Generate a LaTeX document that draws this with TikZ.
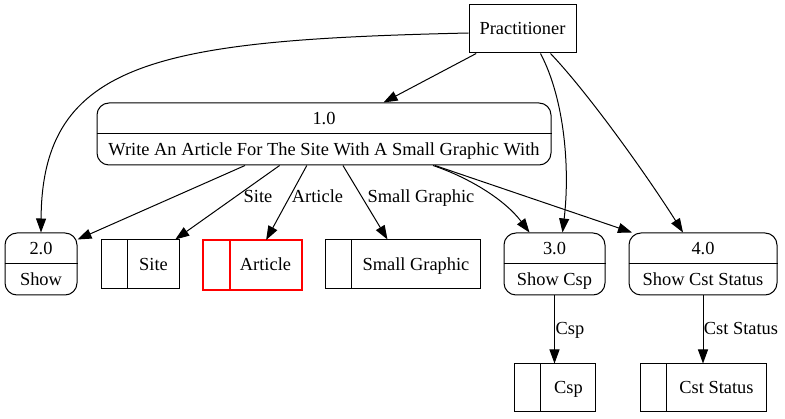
\documentclass[tikz,border=0pt]{standalone}
\usepackage{fontspec}
\setmainfont{Liberation Serif}
\usetikzlibrary{arrows.meta}
\begin{document}
\begin{tikzpicture}[x=1pt,y=-1pt,line width=1pt,
  every node/.style={font=\fontsize{18.4}{21}\selectfont},
  txt/.style={inner sep=0pt,text height=15pt,text depth=3pt},
  ext/.style={draw,inner sep=0pt},
  proc/.style={draw,rounded corners=12pt,inner sep=0pt},
  store/.style={draw,inner sep=0pt},
  flow/.style={-{Triangle[length=14pt,width=10pt]}}]
\useasboundingbox (0,0) rectangle (785,419);
% external entity
\node[ext,minimum width=107pt,minimum height=48pt] (prac) at (522.5,29) {};
\node[txt] (tprac) at (522.5,29) {Practitioner};
% processes
\node[proc,minimum width=454pt,minimum height=62pt] (p1) at (324,134) {};
\draw (p1.west) -- (p1.east);
\node[txt] (p1a) at (324,118.5) {1.0};
\node[txt] (p1b) at (324,149.5) {Write An Article For The Site With A Small Graphic With};
\node[proc,minimum width=72pt,minimum height=62pt] (p2) at (41,264) {};
\draw (p2.west) -- (p2.east);
\node[txt] (p2a) at (41,248.5) {2.0};
\node[txt] (p2b) at (41,279.5) {Show};
\node[proc,minimum width=101pt,minimum height=62pt] (p3) at (554.5,264) {};
\draw (p3.west) -- (p3.east);
\node[txt] (p3a) at (554.5,248.5) {3.0};
\node[txt] (p3b) at (554.5,279.5) {Show Csp};
\node[proc,minimum width=148pt,minimum height=62pt] (p4) at (703,264) {};
\draw (p4.west) -- (p4.east);
\node[txt] (p4a) at (703,248.5) {4.0};
\node[txt] (p4b) at (703,279.5) {Show Cst Status};
% data stores
\node[store,minimum width=78pt,minimum height=49pt] (site) at (140,264.5) {};
\draw ([xshift=27pt]site.north west) -- ([xshift=27pt]site.south west);
\node[txt] (tsite) at (153.5,264.5) {Site};
\node[inner sep=0pt,minimum width=98pt,minimum height=49pt] (art) at (252.5,265) {};
\draw[red,line width=1.1pt] (art.north west) rectangle (art.south east);
\draw[red,line width=1.1pt] ([xshift=27pt]art.north west) -- ([xshift=27pt]art.south west);
\node[txt] (tart) at (265.5,264.5) {Article};
\node[store,minimum width=155pt,minimum height=49pt] (sg) at (402.5,264.5) {};
\draw ([xshift=27pt]sg.north west) -- ([xshift=27pt]sg.south west);
\node[txt] (tsg) at (416,264.5) {Small Graphic};
\node[store,minimum width=81pt,minimum height=48pt] (csp) at (554.5,388) {};
\draw ([xshift=27pt]csp.north west) -- ([xshift=27pt]csp.south west);
\node[txt] (tcsp) at (568.5,388) {Csp};
\node[store,minimum width=126pt,minimum height=48pt] (cst) at (703,388) {};
\draw ([xshift=27pt]cst.north west) -- ([xshift=27pt]cst.south west);
\node[txt] (tcst) at (716.5,388) {Cst Status};
% flows
\draw[flow] ([yshift=-4pt]prac.west) .. controls (160,40) and (42,60) .. (p2.north);
\draw[flow] (prac) -- (p1);
\draw[flow] ([xshift=18pt]prac.south) .. controls (565,100) and (570,170) .. ([xshift=8pt]p3.north);
\draw[flow] ([xshift=28pt]prac.south) .. controls (590,95) and (650,180) .. ([xshift=-20pt]p4.north);
\draw[flow] ([xshift=-79pt]p1.south) -- ([yshift=-7pt]p2.north east);
\draw[flow] (p1) -- (site);
\draw[flow] (p1) -- (art);
\draw[flow] (p1) -- (sg);
\draw[flow] ([xshift=109pt]p1.south) .. controls (470,178) and (505,200) .. ([xshift=-25pt]p3.north);
\draw[flow] ([xshift=111pt]p1.south) -- ([xshift=-71pt]p4.north);
\draw[flow] (p3) -- (csp);
\draw[flow] (p4) -- (cst);
% flow labels
\node[txt] (lsite) at (258,197) {Site};
\node[txt] (lart) at (317.5,197) {Article};
\node[txt] (lsg) at (421,197) {Small Graphic};
\node[txt] (lcsp) at (570,329) {Csp};
\node[txt] (lcst) at (741,329) {Cst Status};
\end{tikzpicture}
\end{document}
